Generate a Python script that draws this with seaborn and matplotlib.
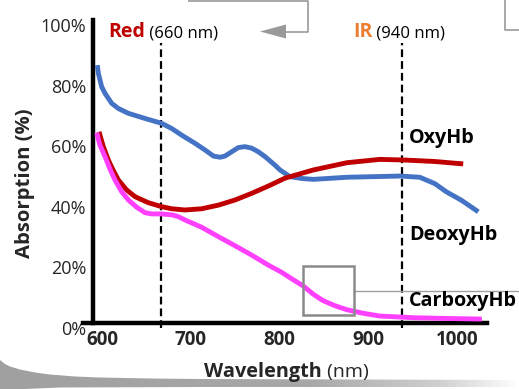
import matplotlib
matplotlib.use("Agg")
import numpy as np
import pandas as pd
import seaborn as sns
import matplotlib.pyplot as plt
from matplotlib.patches import Polygon, Rectangle
import matplotlib.transforms as mtransforms

# ---------------- data ----------------
oxy_nm = [594.7, 595.9, 599.6, 603.4, 610.9, 618.4, 629.7, 648.5, 667.2, 678.5, 689.8, 704.8,
          716.1, 725.5, 733.0, 738.6, 746.1, 753.6, 761.1, 768.7, 776.2, 783.7, 794.9, 800.6,
          811.8, 825.0, 838.0, 876.0, 936.0, 958.0, 975.0, 988.0, 1005.0, 1024.0]
oxy_abs = [85.1, 82.4, 78.0, 75.8, 72.5, 70.8, 69.2, 67.5, 65.9, 64.2, 62.0, 59.3,
           57.1, 55.1, 54.7, 55.1, 56.5, 57.9, 58.2, 57.7, 56.5, 54.9, 52.1, 50.5,
           48.3, 47.7, 47.4, 48.1, 48.5, 48.1, 46.0, 43.3, 40.5, 36.7]

deoxy_nm = [596.6, 601.5, 607.1, 612.8, 618.4, 627.8, 637.2, 652.2, 667.2, 678.5, 693.5, 712.3,
            731.1, 749.9, 768.7, 787.4, 806.2, 838.0, 876.0, 913.0, 940.0, 975.0, 1007.0]
deoxy_abs = [63.1, 58.2, 53.8, 50.3, 47.2, 43.9, 41.7, 39.7, 38.4, 37.7, 37.3, 37.7,
             38.9, 40.6, 42.8, 45.2, 47.8, 50.5, 52.9, 54.0, 53.8, 53.3, 52.5]

carboxy_nm = [594.0, 597.7, 603.4, 609.0, 614.6, 622.2, 629.7, 639.1, 648.5, 656.0, 667.2, 678.5,
              686.0, 693.5, 712.3, 731.1, 749.9, 768.7, 787.4, 802.0, 813.7, 826.8, 838.0, 849.0,
              862.5, 875.7, 894.4, 913.0, 950.8, 988.4, 1028.0]
carboxy_abs = [62.8, 58.7, 54.9, 50.8, 47.2, 43.3, 40.6, 38.2, 36.4, 36.0, 36.0, 35.7,
               35.1, 34.0, 31.6, 28.5, 25.5, 22.4, 19.1, 16.8, 14.6, 12.2, 9.5, 7.4,
               5.7, 4.4, 3.2, 2.3, 1.75, 1.5, 1.3]

species = ["OxyHb", "DeoxyHb", "CarboxyHb"]
colors = ["#4472C4", "#C00000", "#FF40FF"]
label_y = [59.4, 27.4, 5.6]

led_nm = [667, 938]
led_names = ["Red", "IR"]
led_texts = [" (660 nm)", " (940 nm)"]
led_colors = ["#C00000", "#ED7D31"]

x_ticks = [600, 700, 800, 900, 1000]
y_ticks = [0, 20, 40, 60, 80, 100]
y_ticklabels = ["0%", "20%", "40%", "60%", "80%", "100%"]

# ---------------- figure ----------------
W, H = 519, 389
sns.set_style("white")
plt.rcParams["font.family"] = ["Open Sans", "DejaVu Sans"]

fig = plt.figure(figsize=(W / 100, H / 100), dpi=100)
fig.patch.set_facecolor("white")

# pixel-space overlay for decorations
ov = fig.add_axes([0, 0, 1, 1], zorder=0)
ov.axis("off")

# bottom swoosh with gradient
top_edge = [(0, 360), (5, 364), (10, 366.5), (20, 369.5), (35, 372.5), (50, 374.5), (75, 376.5),
            (100, 377.5), (150, 378.5), (200, 379), (350, 379.5), (519, 380)]
bottom_edge = [(519, 387), (200, 387), (60, 387.5), (25, 389), (0, 390)]
poly = Polygon(top_edge + bottom_edge, closed=True, facecolor="none", edgecolor="none")
ov.add_patch(poly)
grad = np.linspace(0, 1, 512).reshape(1, -1)
cmap = matplotlib.colors.LinearSegmentedColormap.from_list(
    "g", [(0, "#a0a0a0"), (0.6, "#a8a8a8"), (0.85, "#d0d0d0"), (1.0, "#ffffff")])
im = ov.imshow(grad, extent=(0, 519, 391, 355), cmap=cmap, aspect="auto", zorder=1)
im.set_clip_path(poly)
ov.set_xlim(0, W)
ov.set_ylim(H, 0)

# top connectors
gcol = "#999999"
ov.plot([188, 308, 308, 285], [0.5, 0.5, 31.5, 31.5], color=gcol, lw=1.2, solid_capstyle="butt")
ov.add_patch(Polygon([(260, 31.5), (286, 24.5), (286, 38.5)], closed=True, facecolor=gcol, edgecolor="none"))
ov.plot([505, 505, 519], [0, 29.5, 29.5], color=gcol, lw=1.2)

# main axes
ax_left, ax_right = 93, 487
ax_top, ax_bottom = 20, 323
ax = fig.add_axes([ax_left / W, (H - ax_bottom) / H, (ax_right - ax_left) / W, (ax_bottom - ax_top) / H], zorder=2)
ax.set_facecolor("none")

x0 = 600 + (ax_left - 102) / 0.8875
x1 = 600 + (ax_right - 102) / 0.8875
ax.set_xlim(x0, x1)
ax.set_ylim(0, 100)

df = pd.concat([
    pd.DataFrame({"nm": oxy_nm, "absorption": oxy_abs, "species": "OxyHb"}),
    pd.DataFrame({"nm": deoxy_nm, "absorption": deoxy_abs, "species": "DeoxyHb"}),
    pd.DataFrame({"nm": carboxy_nm, "absorption": carboxy_abs, "species": "CarboxyHb"}),
], ignore_index=True)

# dashed LED lines
for nm in led_nm:
    ax.plot([nm, nm], [-1.8, 92.5], color="black", lw=1.6, dashes=(3.5, 1.8), clip_on=False, zorder=1)

sns.lineplot(data=df, x="nm", y="absorption", hue="species", hue_order=species,
             palette=dict(zip(species, colors)), linewidth=3.5, legend=False,
             estimator=None, sort=False, ax=ax, solid_capstyle="butt",
             solid_joinstyle="round", zorder=3)

# highlight box
ax.add_patch(Rectangle((826, 2.6), 58, 16.3, facecolor="none", edgecolor="#8a8a8a", lw=1.8, zorder=4))
ax.plot([884, x1 + 40], [10.6, 10.6], color="#a0a0a0", lw=1.0, clip_on=False, zorder=1)

# spines
for s in ["top", "right"]:
    ax.spines[s].set_visible(False)
for s in ["left", "bottom"]:
    ax.spines[s].set_linewidth(3.2)
    ax.spines[s].set_color("black")
ax.spines["bottom"].set_bounds(x0 - 11, x1)

ax.set_xticks(x_ticks)
ax.set_xticklabels([str(t) for t in x_ticks], fontweight="bold", fontsize=13.5)
ax.set_yticks(y_ticks)
ax.set_yticklabels(y_ticklabels, fontsize=13)
ax.tick_params(axis="y", direction="out", length=6, width=1.2, color="black", pad=-1)
ax.tick_params(axis="x", direction="out", length=3, width=1.0, color="black", pad=2)
off = mtransforms.ScaledTranslation(0, -5 / 100, fig.dpi_scale_trans)
for lab in ax.get_yticklabels():
    lab.set_transform(lab.get_transform() + off)
ax.set_xlabel("")
ax.set_ylabel("")

# curve labels
for name, yv in zip(species, label_y):
    ax.text(946, yv, name, fontsize=14.2, fontweight="bold", ha="left", va="baseline", color="black")

# LED header labels (pixel coords)
led_x = [108, 353]
base_y = 37.3
for nm_x, name, txt, col in zip(led_x, led_names, led_texts, led_colors):
    t = ov.text(nm_x, base_y, name, color=col, fontsize=14, fontweight="bold", ha="left", va="baseline", zorder=5)
    ov.annotate(txt, xy=(1, base_y), xycoords=(t, "data"), va="baseline", ha="left",
                fontsize=12, color="black", zorder=5)

# axis titles
wl_base = 376.7
t = ov.text(204, wl_base, "Wavelength", fontsize=14.3, fontweight="bold", ha="left", va="baseline", zorder=5)
ov.annotate(" (nm)", xy=(1, wl_base), xycoords=(t, "data"), va="baseline", ha="left", fontsize=14, zorder=5)
ov.text(25, 183, "Absorption (%)", fontsize=14.6, fontweight="bold", rotation=90, ha="center", va="center", zorder=5)

fig.savefig("out.png", dpi=100)
